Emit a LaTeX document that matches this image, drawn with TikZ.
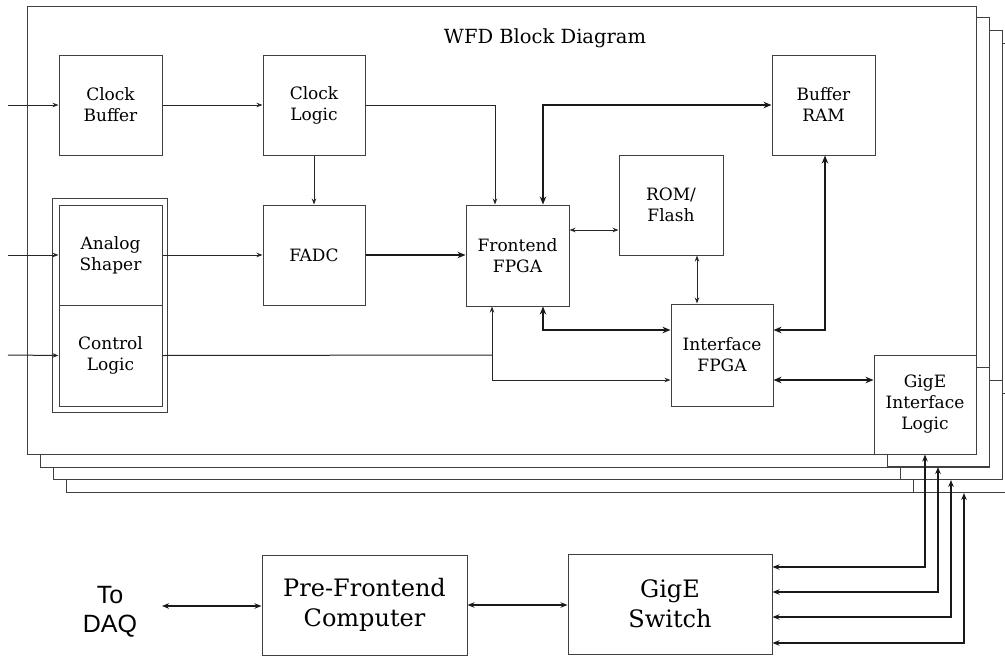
\documentclass[tikz,border=0pt]{standalone}
\usepackage{fontspec}
\setmainfont{DejaVu Serif}
\newfontfamily\sansf{Liberation Sans}
\usetikzlibrary{arrows.meta}
\begin{document}
\begin{tikzpicture}[x=1pt,y=-1pt,
  board/.style={draw=black!75, line width=1pt, fill=white},
  blk/.style={draw=black!75, line width=1pt, fill=white, align=center, inner sep=0pt,
    font=\fontsize{17}{21}\selectfont},
  bigblk/.style={draw=black!75, line width=1pt, fill=white, align=center, inner sep=0pt,
    font=\fontsize{24}{30}\selectfont},
  conn/.style={draw=black!85, line width=1pt},
  thinone/.style={conn, -{Stealth[length=6pt,width=4.5pt]}},
  thinboth/.style={conn, {Stealth[length=6pt,width=4.5pt]}-{Stealth[length=6pt,width=4.5pt]}},
  thickone/.style={draw=black!90, line width=2.2pt, -{Stealth[length=8pt,width=6.5pt]}},
  thickboth/.style={draw=black!90, line width=2.2pt, {Stealth[length=8pt,width=6.5pt]}-{Stealth[length=8pt,width=6.5pt]}},
  medboth/.style={draw=black!90, line width=1.5pt, {Stealth[length=7pt,width=5.5pt]}-{Stealth[length=7pt,width=5.5pt]}},
]
\useasboundingbox (0,0) rectangle (1005,656);
\clip (0,0) rectangle (1005,656);

% stacked boards (back to front)
\draw[board] (66,43) rectangle (1015,492);
\node[blk, minimum width=102pt, minimum height=99pt] (g3) at (964,443) {};
\draw[board] (53,30) rectangle (1002,479);
\node[blk, minimum width=102pt, minimum height=99pt] (g2) at (951,430) {};
\draw[board] (40,17) rectangle (989,467);
\node[blk, minimum width=102pt, minimum height=99pt] (g1) at (938,417) {};
\draw[board] (27,6) rectangle (976,454);

\node[font=\fontsize{19.5}{23}\selectfont] (title) at (545,38) {WFD Block Diagram};

% blocks on the front board
\node[blk, minimum width=103pt, minimum height=100pt] (cb) at (110.5,105) {Clock\\Buffer};
\node[blk, minimum width=102pt, minimum height=100pt] (cl) at (314,105) {Clock\\Logic};
\node[blk, minimum width=102pt, minimum height=100pt] (fadc) at (314,255) {FADC};
\node[blk, minimum width=103pt, minimum height=101pt] (fe) at (517.5,255.5) {Frontend\\FPGA};
\node[blk, minimum width=104pt, minimum height=100pt] (rom) at (671,205) {ROM/\\Flash};
\node[blk, minimum width=103pt, minimum height=100pt] (bram) at (823.5,105) {Buffer\\RAM};
\node[blk, minimum width=102pt, minimum height=102pt] (ifpga) at (722,355) {Interface\\FPGA};
\node[blk, minimum width=102pt, minimum height=99pt] (g0) at (925,404.5) {GigE\\Interface\\Logic};
\draw[draw=black!75, line width=1pt] (52,198) rectangle (167,412);
\node[blk, minimum width=103pt, minimum height=100pt] (as) at (110.5,255) {Analog\\Shaper};
\node[blk, minimum width=103pt, minimum height=101pt] (ctl) at (110.5,355.5) {Control\\Logic};

% bottom blocks
\node[bigblk, minimum width=205pt, minimum height=100pt] (pfc) at (364.5,605) {Pre-Frontend\\Computer};
\node[bigblk, minimum width=204pt, minimum height=100pt] (sw) at (670,604) {GigE\\Switch};
\node[align=center, font=\sansf\fontsize{25}{29}\selectfont, inner sep=0pt] (daq) at (110,612) {To\\DAQ};

% inputs
\coordinate (in1) at (8,105);
\coordinate (in2) at (8,255);
\coordinate (in3) at (8,355);
\draw[thinone] (in1) -- (cb.west);
\draw[thinone] (in2) -- (as.west);
\draw[thinone] (in3) -- (ctl.west);

% front-board connections
\draw[thinone] (cb.east) -- (cl.west);
\draw[thinone] (cl.south) -- (fadc.north);
\coordinate (clk) at (495,105);
\draw[thinone] (cl.east) -- (clk) -- (clk |- fe.north);
\coordinate (br) at (543,105);
\draw[thickboth] (br |- fe.north) -- (br) -- (bram.west);
\draw[thinone] (as.east) -- (as.east -| fadc.west);
\draw[thickone] (fadc.east) -- (fadc.east -| fe.west);
\coordinate (j) at (492,355);
\coordinate (j2) at (492,380);
\draw[conn] (ctl.east) -- (j);
\draw[thinboth] (j |- fe.south) -- (j2) -- (j2 -| ifpga.west);
\coordinate (rf) at (671,230);
\draw[thinboth] (rf -| fe.east) -- (rf -| rom.west);
\coordinate (ri) at (697,280);
\draw[thinboth] (ri |- rom.south) -- (ri |- ifpga.north);
\coordinate (fi) at (543,330);
\draw[thickboth] (fi |- fe.south) -- (fi) -- (fi -| ifpga.west);
\coordinate (bi) at (825,330);
\draw[thickboth] (bi |- bram.south) -- (bi) -- (bi -| ifpga.east);
\coordinate (ig) at (820,380);
\draw[thickboth] (ig -| ifpga.east) -- (ig -| g0.west);

% bottom connections
\coordinate (dq) at (162,606);
\draw[medboth] (dq) -- (dq -| pfc.west);
\draw[medboth] (pfc.east) -- (pfc.east -| sw.west);
\coordinate (s0) at (925,567);
\coordinate (s1) at (938,592);
\coordinate (s2) at (951,617);
\coordinate (s3) at (964,643);
\draw[medboth] (s0 -| sw.east) -- (s0) -- (s0 |- g0.south);
\draw[medboth] (s1 -| sw.east) -- (s1) -- (s1 |- g1.south);
\draw[medboth] (s2 -| sw.east) -- (s2) -- (s2 |- g2.south);
\draw[medboth] (s3 -| sw.east) -- (s3) -- (s3 |- g3.south);
\end{tikzpicture}
\end{document}
